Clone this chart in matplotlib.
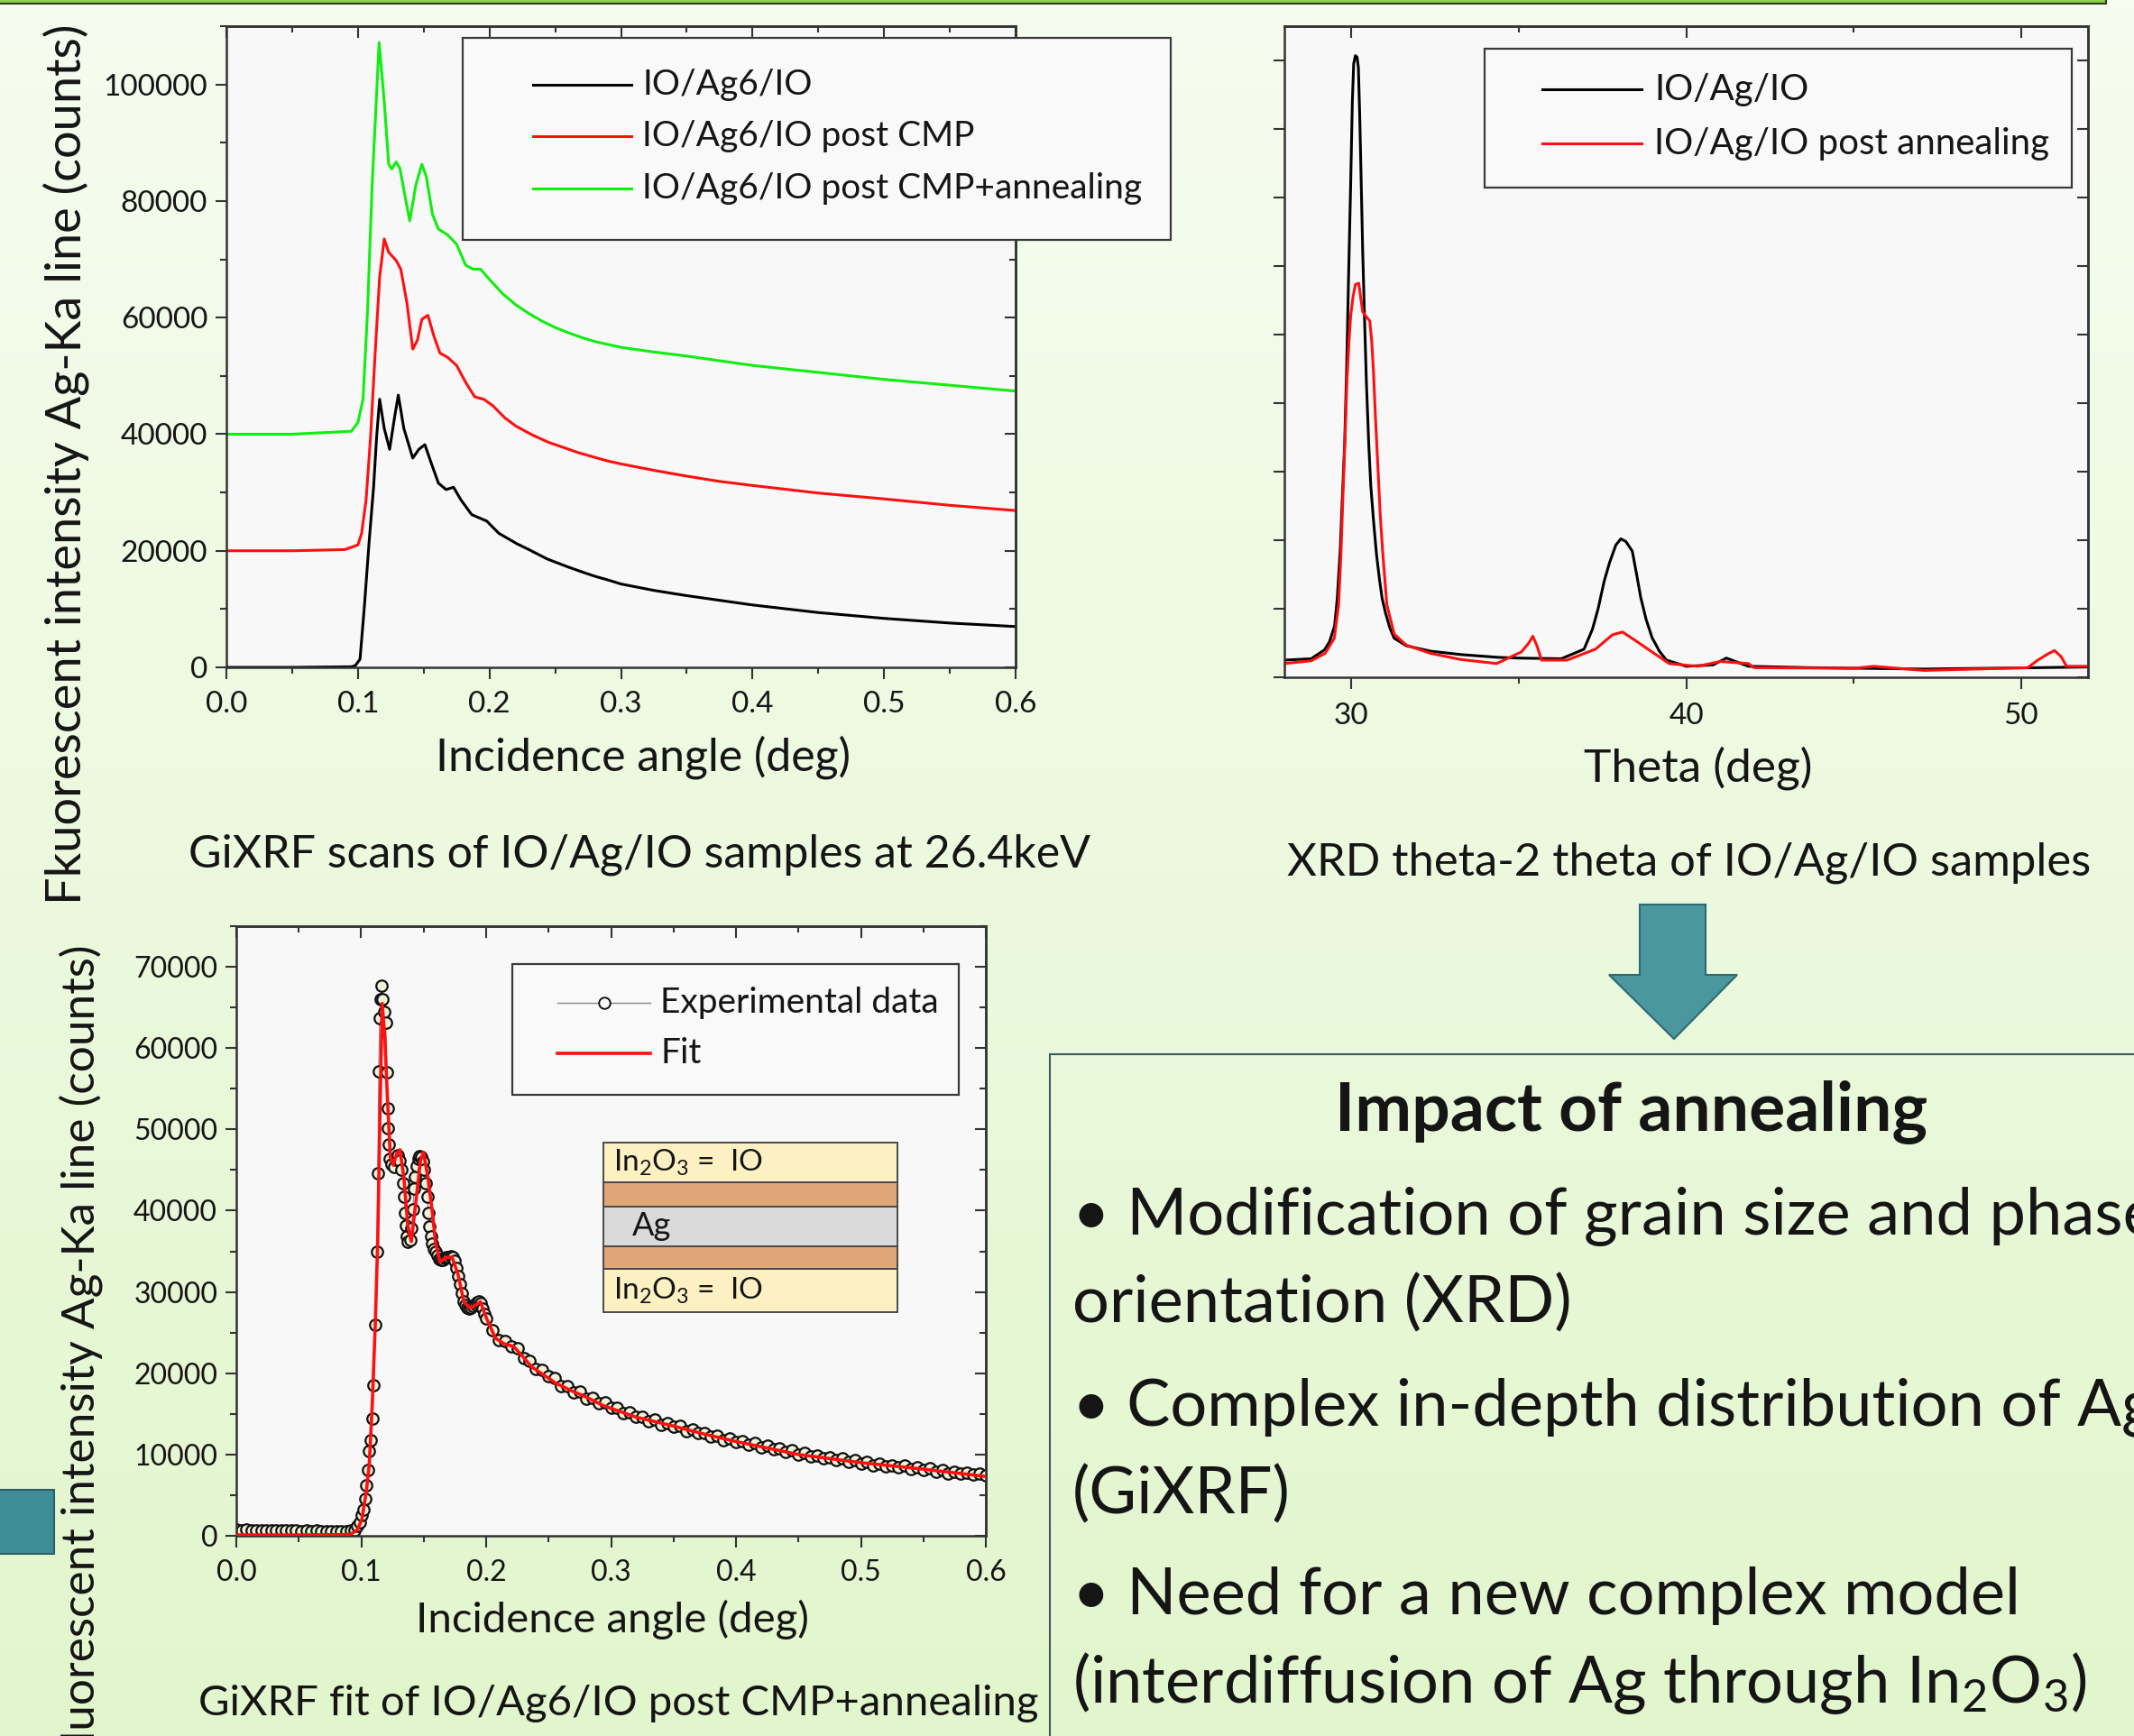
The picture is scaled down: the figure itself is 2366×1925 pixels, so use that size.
import numpy as np
import matplotlib
matplotlib.use('Agg')
import matplotlib.pyplot as plt
from matplotlib.patches import Rectangle, Polygon
from matplotlib.lines import Line2D
from matplotlib.ticker import MultipleLocator, FormatStrFormatter, NullFormatter
from matplotlib.colors import LinearSegmentedColormap

# ---- GiXRF scans (top left) ----
gixrf_labels = ['IO/Ag6/IO', 'IO/Ag6/IO post CMP', 'IO/Ag6/IO post CMP+annealing']
gixrf_colors = ['#000000', '#ff1010', '#10ee10']

black_x = [0.0, 0.05, 0.095, 0.098, 0.1016, 0.105, 0.1085, 0.1119, 0.1142, 0.1165, 0.12, 0.1241,
           0.128, 0.1307, 0.1349, 0.1417, 0.1463, 0.1509, 0.1555, 0.1612, 0.167, 0.1727, 0.1784,
           0.1865, 0.1979, 0.2071, 0.2209, 0.23, 0.2438, 0.26, 0.27, 0.2805, 0.29, 0.3, 0.325,
           0.35, 0.375, 0.4, 0.45, 0.5, 0.55, 0.6]
black_y = [0, 0, 100, 300, 1400, 10700, 21500, 30900, 39500, 46000, 41000, 37400,
           43100, 46700, 41000, 35900, 37400, 38200, 35200, 31600, 30500, 30900, 28700,
           26200, 25100, 23000, 21200, 20200, 18600, 17200, 16400, 15600, 15000, 14300, 13200,
           12300, 11500, 10700, 9400, 8400, 7600, 7000]

red_x = [0.0, 0.05, 0.09, 0.1, 0.1028, 0.1062, 0.1096, 0.1131, 0.1165, 0.12, 0.1234, 0.1291,
         0.1326, 0.1372, 0.1417, 0.1452, 0.1486, 0.1532, 0.1578, 0.1624, 0.1681, 0.175, 0.1819,
         0.1888, 0.1956, 0.2025, 0.2117, 0.22, 0.2323, 0.245, 0.2553, 0.268, 0.2805, 0.29, 0.3,
         0.325, 0.35, 0.375, 0.4, 0.45, 0.5, 0.55, 0.6]
red_y = [20000, 20000, 20200, 21000, 22960, 28700, 39500, 53900, 66900, 73500, 71200, 69800,
         68300, 62600, 54600, 56100, 59700, 60400, 56800, 53900, 53200, 51800, 48900,
         46400, 46000, 44900, 42800, 41400, 39900, 38600, 37800, 36800, 36000, 35400, 34900,
         33800, 32800, 31900, 31200, 29900, 28900, 27800, 26900]

green_x = [0.0, 0.05, 0.095, 0.1, 0.1039, 0.1073, 0.1108, 0.1161, 0.12, 0.1234, 0.1257, 0.1291,
           0.1319, 0.136, 0.1394, 0.144, 0.1486, 0.152, 0.1567, 0.1612, 0.1681, 0.175, 0.1819,
           0.1876, 0.1933, 0.2002, 0.21, 0.22, 0.23, 0.24, 0.25, 0.26, 0.27, 0.28, 0.29, 0.3,
           0.325, 0.35, 0.375, 0.4, 0.45, 0.5, 0.55, 0.6]
green_y = [40000, 40000, 40500, 42000, 46000, 61100, 82700, 107200, 97100, 86300, 85500, 86700,
           85600, 80600, 76600, 82700, 86300, 84200, 77700, 75200, 74200, 72600, 69000,
           68300, 68300, 66500, 64100, 62200, 60700, 59400, 58300, 57400, 56600, 55900, 55400, 54900,
           54100, 53400, 52600, 51800, 50600, 49400, 48400, 47400]

# ---- XRD theta-2theta (top right) ----
xrd_labels = ['IO/Ag/IO', 'IO/Ag/IO post annealing']
xrd_black_x = [28.0, 28.8, 29.2, 29.35, 29.5, 29.58, 29.67, 29.73, 29.8, 29.86, 29.92, 29.98, 30.03,
               30.07, 30.12, 30.17, 30.21, 30.25, 30.3, 30.34, 30.39, 30.45, 30.52, 30.58, 30.66,
               30.75, 30.84, 30.92, 31.02, 31.15, 31.28, 31.64, 32.37, 33.3, 34.4, 35.0, 36.27,
               36.95, 37.2, 37.37, 37.55, 37.71, 37.9, 38.05, 38.2, 38.39, 38.52, 38.64, 38.8,
               38.98, 39.2, 39.41, 40.0, 40.8, 41.2, 41.86, 43.7, 47.1, 50.5, 52.0]
xrd_black_y = [0.25, 0.27, 0.4, 0.52, 0.75, 1.15, 1.87, 2.6, 3.4, 4.5, 5.9, 7.2, 8.4,
               8.95, 9.07, 9.05, 8.9, 8.2, 7.1, 6.2, 5.3, 4.3, 3.4, 2.8, 2.3,
               1.8, 1.43, 1.15, 0.94, 0.72, 0.57, 0.46, 0.38, 0.33, 0.29, 0.28, 0.27,
               0.41, 0.7, 1.0, 1.4, 1.67, 1.93, 2.02, 1.98, 1.84, 1.5, 1.17, 0.85,
               0.58, 0.38, 0.25, 0.16, 0.18, 0.28, 0.16, 0.14, 0.12, 0.14, 0.15]
xrd_red_x = [28.0, 28.8, 29.22, 29.49, 29.62, 29.69, 29.76, 29.82, 29.87, 29.93, 29.98, 30.05,
             30.12, 30.22, 30.34, 30.43, 30.55, 30.61, 30.66, 30.72, 30.79, 30.86, 30.93, 31.06,
             31.28, 31.64, 32.36, 33.26, 34.34, 35.08, 35.3, 35.42, 35.55, 35.68, 36.44, 37.29,
             37.8, 38.1, 38.47, 38.98, 39.49, 40.34, 41.02, 41.86, 42.03, 45.0, 45.6,
             47.1, 50.2, 50.5, 50.8, 51.0, 51.2, 51.36, 52.0]
xrd_red_y = [0.2, 0.24, 0.35, 0.57, 1.06, 1.8, 2.8, 3.6, 4.34, 4.9, 5.27, 5.55,
             5.73, 5.75, 5.33, 5.27, 5.2, 4.9, 4.47, 3.8, 3.1, 2.4, 1.87, 1.06,
             0.63, 0.47, 0.35, 0.26, 0.2, 0.37, 0.5, 0.6, 0.45, 0.25, 0.25, 0.41,
             0.62, 0.66, 0.54, 0.37, 0.2, 0.16, 0.23, 0.2, 0.14, 0.13, 0.16,
             0.1, 0.14, 0.25, 0.34, 0.39, 0.3, 0.16, 0.16]

# ---- GiXRF fit (bottom left) ----
fit_labels = ['Experimental data', 'Fit']
fit_x = [0.0, 0.05, 0.09, 0.0921, 0.0969, 0.1005, 0.1041, 0.1065, 0.1089, 0.1113, 0.1132, 0.1149,
         0.1168, 0.119, 0.1209, 0.1233, 0.1257, 0.1286, 0.131, 0.1341, 0.1373, 0.1401, 0.1438,
         0.1474, 0.1498, 0.1534, 0.157, 0.1594, 0.163, 0.1678, 0.1726, 0.1774, 0.1822, 0.187,
         0.1918, 0.1954, 0.2002, 0.2075, 0.2147, 0.2219, 0.2291, 0.2363, 0.2459, 0.2555, 0.2675,
         0.2796, 0.294, 0.32, 0.35, 0.375, 0.4, 0.45, 0.5, 0.55, 0.6]
fit_y = [100, 100, 150, 250, 740, 2000, 5460, 8900, 16400, 26300, 36200, 51100,
         65500, 61000, 54100, 46600, 45600, 47100, 47500, 44100, 38200, 36200, 41200,
         46100, 47200, 44100, 39700, 36200, 33700, 34200, 34300, 32200, 28800, 28000,
         28400, 28800, 26800, 24300, 23600, 23300, 22100, 20800, 19800, 18800, 17900,
         17100, 16000, 14600, 13500, 12500, 11600, 10000, 9000, 8200, 7300]

exp_x = [0.000, 0.004, 0.008, 0.012, 0.016, 0.020, 0.024, 0.028, 0.032, 0.036, 0.040, 0.044,
         0.048, 0.052, 0.056, 0.060, 0.064, 0.068, 0.072, 0.076, 0.080, 0.084, 0.088,
         0.0915, 0.0945, 0.0969, 0.0988, 0.1005, 0.1017, 0.1029, 0.1041, 0.1053, 0.1062, 0.1077,
         0.1089, 0.1101, 0.1113, 0.1125, 0.1133, 0.1140, 0.1147, 0.1155, 0.1163,
         0.1170, 0.1183, 0.1197, 0.1204, 0.1210, 0.1216, 0.1222, 0.1230, 0.1245, 0.1260, 0.1275,
         0.1290, 0.1305, 0.1320, 0.1333, 0.1343, 0.1350, 0.1357, 0.1365, 0.1375, 0.1390, 0.1403,
         0.1413, 0.1423, 0.1433, 0.1443, 0.1455, 0.1467, 0.1480, 0.1493, 0.1505, 0.1517, 0.1528,
         0.1538, 0.1548, 0.1558, 0.1568, 0.1580, 0.1595, 0.1610, 0.1625, 0.1640, 0.1655, 0.1670,
         0.1685, 0.1700, 0.1715, 0.1730, 0.1745, 0.1760, 0.1775, 0.1790, 0.1805, 0.1820, 0.1835,
         0.1850, 0.1865, 0.1880, 0.1895, 0.1910, 0.1925, 0.1940, 0.1955, 0.1970, 0.1985, 0.2000,
         0.205, 0.210, 0.215, 0.220, 0.225, 0.230, 0.235, 0.240, 0.245, 0.250, 0.255, 0.260,
         0.265, 0.270, 0.275, 0.280, 0.285, 0.290, 0.295, 0.300, 0.305, 0.310, 0.315, 0.320,
         0.325, 0.330, 0.335, 0.340, 0.345, 0.350, 0.355, 0.360, 0.365, 0.370, 0.375, 0.380,
         0.385, 0.390, 0.395, 0.400, 0.405, 0.410, 0.415, 0.420, 0.425, 0.430, 0.435, 0.440,
         0.445, 0.450, 0.455, 0.460, 0.465, 0.470, 0.475, 0.480, 0.485, 0.490, 0.495, 0.500,
         0.505, 0.510, 0.515, 0.520, 0.525, 0.530, 0.535, 0.540, 0.545, 0.550, 0.555, 0.560,
         0.565, 0.570, 0.575, 0.580, 0.585, 0.590, 0.595, 0.600]
exp_y = [760, 700, 740, 690, 720, 660, 700, 650, 680, 640, 670, 620,
         650, 600, 640, 590, 620, 580, 610, 570, 600, 560, 590,
         620, 700, 1200, 1700, 2500, 3200, 4500, 6200, 8100, 10400, 11800,
         14400, 18500, 26000, 35000, 44600, 57100, 63700, 66000, 67700,
         66000, 64500, 63100, 57000, 52600, 50100, 48100, 46400, 45700, 45400, 46300,
         46800, 46200, 45000, 43400, 41700, 39700, 38200, 36800, 36200, 36400, 37800,
         40200, 42700, 44200, 45500, 46400, 46700, 46600, 46000, 45000, 43400, 41700,
         39700, 38000, 36800, 35900, 35300, 35000, 34500, 34100, 33900, 34000, 34200,
         34300, 34300, 34400, 34300, 33800, 33000, 32000, 30900, 29800, 28900, 28400,
         28100, 28000, 28100, 28300, 28500, 28700, 28800, 28600, 28000, 27300, 26700,
         25300, 24100, 24000, 23300, 23100, 21900, 21500, 20500, 20400, 19600, 19400, 18400,
         18400, 17600, 17700, 16900, 17000, 16300, 16400, 15800, 15800, 15100, 15200, 14600,
         14700, 14100, 14300, 13700, 13900, 13400, 13500, 12900, 13100, 12600, 12700, 12200,
         12300, 11800, 12000, 11500, 11700, 11200, 11400, 10900, 11100, 10600, 10800, 10300,
         10500, 10000, 10200, 9800, 9900, 9500, 9700, 9300, 9500, 9100, 9300, 8900,
         9100, 8700, 8900, 8500, 8700, 8400, 8600, 8200, 8400, 8100, 8300, 7900,
         8100, 7700, 7900, 7600, 7800, 7500, 7600, 7400]

W, H = 2366, 1925


def fx(x):
    return x / W


def fy(y):
    return 1 - y / H


def rect(l, t, r, b):
    return [l / W, 1 - b / H, (r - l) / W, (b - t) / H]


plt.rcParams['font.family'] = ['Lato', 'DejaVu Sans']
plt.rcParams['mathtext.fontset'] = 'custom'
plt.rcParams['mathtext.rm'] = 'Lato'
plt.rcParams['mathtext.it'] = 'Lato:italic'
plt.rcParams['mathtext.bf'] = 'Lato:bold'
plt.rcParams['mathtext.default'] = 'regular'

TXT = '#151515'
SPINE = '#333333'

fig = plt.figure(figsize=(W / 100, H / 100), dpi=100)

# background gradient
bg = fig.add_axes([0, 0, 1, 1], zorder=-5)
grad = np.linspace(0, 1, 256).reshape(-1, 1)
bg.imshow(grad, aspect='auto', extent=[0, 1, 0, 1], origin='upper',
          cmap=LinearSegmentedColormap.from_list('bg', ['#f6fcef', '#e2f6cd']))
bg.axis('off')


def fig_rect(l, t, r, b, **kw):
    p = Rectangle((fx(l), fy(b)), fx(r) - fx(l), fy(t) - fy(b), transform=fig.transFigure, **kw)
    fig.add_artist(p)
    return p


def fig_text(x, y, s, **kw):
    kw.setdefault('color', TXT)
    return fig.text(fx(x), fy(y), s, **kw)


def style(ax, xmaj, xmin, ymaj, ymin, xfmt, yfmt, fs, xpad=6, ypad=6):
    ax.set_facecolor('#f8f8f8')
    for sp in ax.spines.values():
        sp.set_linewidth(1.8)
        sp.set_color(SPINE)
    ax.xaxis.set_major_locator(MultipleLocator(xmaj))
    ax.xaxis.set_minor_locator(MultipleLocator(xmin))
    ax.yaxis.set_major_locator(MultipleLocator(ymaj))
    if ymin:
        ax.yaxis.set_minor_locator(MultipleLocator(ymin))
    ax.xaxis.set_major_formatter(FormatStrFormatter(xfmt))
    if yfmt:
        ax.yaxis.set_major_formatter(FormatStrFormatter(yfmt))
    else:
        ax.yaxis.set_major_formatter(NullFormatter())
    ax.tick_params(which='both', direction='out', width=1.5, color=SPINE,
                   labelsize=fs, labelcolor=TXT)
    ax.tick_params(axis='x', pad=xpad)
    ax.tick_params(axis='y', pad=ypad)
    ax.tick_params(which='major', length=9)
    ax.tick_params(which='minor', length=5)
    # Origin style: top / right ticks point inwards
    top = ax.secondary_xaxis('top')
    top.xaxis.set_major_locator(MultipleLocator(xmaj))
    top.xaxis.set_minor_locator(MultipleLocator(xmin))
    top.xaxis.set_major_formatter(NullFormatter())
    right = ax.secondary_yaxis('right')
    right.yaxis.set_major_locator(MultipleLocator(ymaj))
    if ymin:
        right.yaxis.set_minor_locator(MultipleLocator(ymin))
    right.yaxis.set_major_formatter(NullFormatter())
    for sec in (top, right):
        for sp in sec.spines.values():
            sp.set_linewidth(1.8)
            sp.set_color(SPINE)
        sec.tick_params(which='both', direction='in', width=1.5, color=SPINE)
        sec.tick_params(which='major', length=9)
        sec.tick_params(which='minor', length=5)


def draw_legend(box, rows, xl, xt, styles, labels, fs):
    fig_rect(*box, facecolor='#f9f9f9', edgecolor='#3a3a3a', lw=1.6, zorder=4)
    for y, st, lab in zip(rows, styles, labels):
        fig.add_artist(Line2D([fx(xl[0]), fx((xl[0] + xl[1]) / 2), fx(xl[1])], [fy(y)] * 3,
                              transform=fig.transFigure, zorder=5, **st))
        fig_text(xt, y, lab, fontsize=fs, ha='left', va='center', zorder=6)


# ---------------- top-left: GiXRF scans ----------------
ax1 = fig.add_axes(rect(251, 29, 1126, 740))
for xs, ys, c in zip([black_x, red_x, green_x], [black_y, red_y, green_y], gixrf_colors):
    ax1.plot(xs, ys, color=c, lw=2.2)
ax1.set_xlim(0, 0.6)
ax1.set_ylim(0, 110000)
style(ax1, 0.1, 0.05, 20000, 10000, '%.1f', '%d', 24, xpad=10, ypad=6)

draw_legend((513, 42, 1298, 266), [94, 151, 209], (591, 700), 712,
            [dict(color=c, lw=2.2) for c in gixrf_colors], gixrf_labels, 28)

fig_text(73, 515, 'Fkuorescent intensity Ag-Ka line (counts)', fontsize=39,
         rotation=90, ha='center', va='center')
fig_text(713, 840, 'Incidence angle (deg)', fontsize=36, ha='center', va='center')
fig_text(709, 948, 'GiXRF scans of IO/Ag/IO samples at 26.4keV', fontsize=36,
         ha='center', va='center')

# ---------------- top-right: XRD ----------------
ax2 = fig.add_axes(rect(1424, 29, 2315, 751))
ax2.plot(xrd_black_x, xrd_black_y, color='#000000', lw=2.2)
ax2.plot(xrd_red_x, xrd_red_y, color='#ff1010', lw=2.2)
ax2.set_xlim(28, 52)
ax2.set_ylim(0, 9.5)
style(ax2, 10, 5, 1, None, '%d', None, 24, xpad=11)

draw_legend((1646, 54, 2297, 208), [99, 159], (1710, 1820), 1834,
            [dict(color='#000000', lw=2.2), dict(color='#ff1010', lw=2.2)], xrd_labels, 29)

fig_text(1883, 852, 'Theta (deg)', fontsize=37, ha='center', va='center')
fig_text(1873, 957, 'XRD theta-2 theta of IO/Ag/IO samples', fontsize=36.5,
         ha='center', va='center')

# ---------------- bottom-left: GiXRF fit ----------------
ax3 = fig.add_axes(rect(262, 1027, 1093, 1703))
ax3.plot(exp_x, exp_y, '-o', color='#888888', lw=0.8, mfc='#eff1d8', mec='#111111',
         ms=9, mew=1.6, zorder=2)
ax3.plot(fit_x, fit_y, color='#ff1010', lw=2.6, zorder=3)
ax3.set_xlim(0, 0.6)
ax3.set_ylim(0, 75000)
style(ax3, 0.1, 0.05, 10000, 5000, '%.1f', '%d', 23, xpad=10, ypad=6)

draw_legend((568, 1069, 1063, 1214), [1112, 1168], (618, 721), 732,
            [dict(color='#888888', lw=1.0, marker='o', markevery=[1], ms=9, mfc='#f9f9f9',
                  mec='#111111', mew=1.4),
             dict(color='#ff1010', lw=2.6)], fit_labels, 28)

# layer stack sketch
layers = [(1267, 1311, '#fdf0c2'), (1311, 1338, '#dfa677'), (1338, 1382, '#dadada'),
          (1382, 1407, '#dfa677'), (1407, 1455, '#fdf0c2')]
for t, b, c in layers:
    fig_rect(669, t, 995, b, facecolor=c, edgecolor='#4a4a4a', lw=1.4, zorder=4)
fig_text(680, 1289, r'In$_2$O$_3$ =  IO', fontsize=24, ha='left', va='center', zorder=6)
fig_text(680, 1431, r'In$_2$O$_3$ =  IO', fontsize=24, ha='left', va='center', zorder=6)
fig_text(701, 1360, 'Ag', fontsize=26, ha='left', va='center', zorder=6)

fig_text(90, 1047, 'Fluorescent intensity Ag-Ka line (counts)', fontsize=37,
         rotation=90, ha='center', va='top')
fig_text(679, 1796, 'Incidence angle (deg)', fontsize=34, ha='center', va='center')
fig_text(686, 1889, 'GiXRF fit of IO/Ag6/IO post CMP+annealing', fontsize=34,
         ha='center', va='center')

# ---------------- decorations ----------------
fig_rect(-20, -30, 2335, 4, facecolor='#8fcf4f', edgecolor='#2b3d1f', lw=1.5, zorder=3)
fig_rect(-10, 1652, 60, 1723, facecolor='#3f8d97', edgecolor='#2a5f66', lw=1.5, zorder=3)

arrow_px = [(1818, 1003), (1891, 1003), (1891, 1081), (1926, 1081), (1856, 1152),
            (1784, 1081), (1818, 1081)]
fig.add_artist(Polygon([(fx(x), fy(y)) for x, y in arrow_px], closed=True,
                       transform=fig.transFigure, facecolor='#4a979f',
                       edgecolor='#2d6a72', lw=1.5, zorder=3))

# conclusion box
fig_rect(1164, 1169, 2420, 1990, facecolor='none', edgecolor='#3c5a5a', lw=1.5, zorder=3)
fig_text(1809, 1254, 'Impact of annealing', fontsize=54, fontweight='bold',
         ha='center', va='baseline')
lines = [(1369, '\u2022 Modification of grain size and phase'),
         (1466, 'orientation (XRD)'),
         (1581, '\u2022 Complex in-depth distribution of Ag'),
         (1678, '(GiXRF)'),
         (1790, '\u2022 Need for a new complex model'),
         (1888, r'(interdiffusion of Ag through In$_2$O$_3$)')]
for y, s in lines:
    fig_text(1189, y, s, fontsize=52, ha='left', va='baseline')

fig.savefig('out.png', dpi=100)
